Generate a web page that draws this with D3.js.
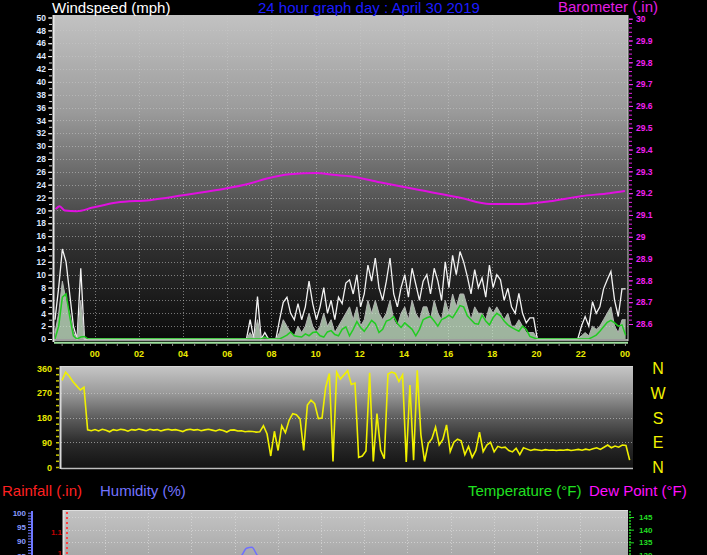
<!DOCTYPE html>
<html><head><meta charset="utf-8">
<script src="https://cdn.jsdelivr.net/npm/d3@7"></script>
<style>
body{margin:0;background:#000;}
svg{display:block;}
text{font-family:"Liberation Sans",Arial,sans-serif;}
</style>
</head><body>
<svg id="c" width="707" height="555"></svg>
<script>
// ---------------- DATA ----------------
const hourTickLabels = ["00","02","04","06","08","10","12","14","16","18","20","22","00"];
const hourTickValues = [0,2,4,6,8,10,12,14,16,18,20,22,24];
const startHour = -1.8;          // first sample (hours relative to midnight)
const stepHours = 1/6;           // 10-minute samples

// wind gust (mph), 10-min samples
const gust = [3,8,14,12,7,2,0,11,0,
  0,0,0,0,0,0,0,0,0,0,0,0,0,0,0,0,0,0,0,0,0,0,0,0,0,0,0,0,0,0,0,0,0,0,0,0,0,0,0,0,0,0,0,0,
  3,0,6.6,0,1,0,0,0,
  3,5.7,6.5,4,3,5.5,3,5,9,5.5,
  3,5,8,4,6,3,6.5,5.5,8.7,9.2,
  7,10,5,7,11.5,9,12.6,8,6,9,
  12.6,7,5,8,10,6.5,11,8.5,6,9,
  10,7,11,9,6,12,8,13,10,13.6,
  12,9.7,7,10.8,8,9.5,6.5,11.5,8,10,
  9.2,6,7.9,5,4,7.1,4,2.5,3.3,3.3,
  0,0,0,0,0,0,0,0,0,0,0,0,
  2,3.5,2,5.8,4,5,7.8,9.2,10.5,6,3.5,7.8,7.8];
// wind speed (mph)
const speed = [1,4,9,6,4,1,0,6,0,
  0,0,0,0,0,0,0,0,0,0,0,0,0,0,0,0,0,0,0,0,0,0,0,0,0,0,0,0,0,0,0,0,0,0,0,0,0,0,0,0,0,0,0,0,
  1,0,3,0,0,0,0,0,
  1,3,2,1,0.5,2,1,2,4,2,
  1,2,4,2,3,1,2,3,4,5,
  3,5,2,3,6,4,6,4,3,4,
  6,3,2,4,5,3,6,4,3,5,
  5,3,6,4,3,6,4,7,5,7,
  7,5,3,5,4,4,3,5,4,5,
  4,3,4,2,2,3,2,1,1,1,
  0,0,0,0,0,0,0,0,0,0,0,0,
  0.5,1,0.5,2,1.5,2,3,4,5,2,1,3,3];
// average wind speed (mph)
const avgSpeed = [0,2,6.5,7,3.5,0.5,0,0.3,0.4,
  0,0,0,0,0,0,0,0,0,0,0,0,0,0,0,0,0,0,0,0,0,0,0,0,0,0,0,0,0,0,0,0,0,0,0,0,0,0,0,0,0,0,0,0,
  0,0,0,0,0.3,0,0,0,
  0,0.3,0.6,1.1,0.5,0.4,0.3,0.8,0.5,1.0,
  1.1,0.5,0.3,1.1,1.3,0.7,0.5,1.5,1.9,0.5,
  1.5,2.7,1.8,1.2,2.0,2.9,2.4,1.0,1.5,2.8,
  3.0,3.5,2.4,1.8,2.5,2.0,1.5,0.5,1.5,3.0,
  3.3,3.5,2.8,2.0,3.0,3.3,3.7,3.3,4.2,5.2,
  5.0,3.6,3.0,2.4,2.3,3.7,2.8,2.2,3.3,4.0,
  3.6,2.8,2.2,1.8,1.5,1.2,2.0,1.5,0.4,0.2,
  0,0,0,0,0,0,0,0,0,0,0,0,0,0,0,
  0.3,0.6,1.2,1.9,2.6,2.9,2.5,2.0,2.2,0.6];
// wind direction (degrees)
const windDir = [315,345,330,310,295,280,290,135,
  132,136,131,137,134,128,136,133,137,135,130,136,134,138,135,132,137,134,136,131,
  135,137,134,136,133,129,135,137,134,136,132,135,137,134,131,136,133,127,134,135,
  131,132,128,130,129,127,128,
  150,120,40,130,60,150,125,170,194,190,
  175,60,225,243,230,176,178,290,340,20,
  345,320,335,350,300,305,35,40,58,343,
  20,194,62,30,338,345,340,311,335,18,
  298,25,352,117,20,85,103,145,80,100,
  153,56,90,101,95,45,75,35,60,127,
  56,80,90,55,75,70,72,60,55,68,
  45,70,65,60,64,62,60,63,61,62,
  60,62,61,63,60,62,64,61,65,62,
  66,70,64,72,80,70,76,72,80,78,
  25];
// barometer (inHg)
const baroHours  = [-1.77,-1.59,-1.36,-0.82,-0.09,1.0,2.49,3.99,5.53,7.02,7.79,8.83,10.05,10.78,11.55,12.9,14.7,16.5,17.9,19.2,20.6,22.0,23.3,24.0];
const baroValues = [29.127,29.14,29.12,29.117,29.134,29.157,29.168,29.19,29.214,29.244,29.267,29.287,29.293,29.284,29.278,29.25,29.214,29.18,29.15,29.15,29.163,29.186,29.2,29.21];
// humidity (%) – only the part visible in the bottom panel
const humHours  = [5.9,6.34,6.55,6.8,7.04,7.4];
const humValues = [82,85.2,87.6,87.9,85.2,82];
// axis labels of the lower panels
const dirTickValues = [0,90,180,270,360];
const compassLabels = ["N","W","S","E","N"];
const compassDeg = [360,270,180,90,0];
const humTicks = [85,90,95,100];
const rainTicks = [1,1.1];
const tempTicks = [130,135,140,145];

// ---------------- DRAW ----------------
const svg = d3.select("#c");
svg.append("rect").attr("width",707).attr("height",555).attr("fill","#000");
const defs = svg.append("defs");
function grad(id, stops){
  const g = defs.append("linearGradient").attr("id",id).attr("x1",0).attr("y1",0).attr("x2",0).attr("y2",1);
  stops.forEach(s=>g.append("stop").attr("offset",s[0]).attr("stop-color",s[1]));
}
grad("gTop",[[0,"#c2c2c2"],[0.3,"#9a9a9a"],[0.45,"#727272"],[0.72,"#2e2e2e"],[1,"#0a0a0a"]]);
grad("gDir",[[0,"#c6c6c6"],[0.25,"#9c9c9c"],[0.5,"#5e5e5e"],[0.75,"#2a2a2a"],[1,"#121212"]]);
grad("gBot",[[0,"#c4c4c4"],[1,"#a6a6a6"]]);

const tAt = i => startHour + i*stepHours;

// ===== TOP PANEL =====
const T = {x0:54, x1:628, y0:15, y1:341};
const xTop = d3.scaleLinear().domain([-1.8,24.14]).range([55,628]);
const yWind = d3.scaleLinear().domain([0,50]).range([339,17.5]);
const yBaro = d3.scaleLinear().domain([28.6,30]).range([324,18.7]);

defs.append("clipPath").attr("id","cTop").append("rect")
  .attr("x",T.x0).attr("y",T.y0).attr("width",T.x1-T.x0).attr("height",T.y1-T.y0);
svg.append("rect").attr("x",T.x0).attr("y",T.y0).attr("width",T.x1-T.x0).attr("height",T.y1-T.y0).attr("fill","url(#gTop)");

const gridTop = svg.append("g").attr("stroke","#c8c8c8").attr("stroke-opacity",0.55).attr("stroke-dasharray","1,2");
gridTop.selectAll(".v").data(hourTickValues.slice(0,12)).join("line")
  .attr("x1",d=>Math.round(xTop(d))+0.5).attr("x2",d=>Math.round(xTop(d))+0.5).attr("y1",T.y0).attr("y2",T.y1);
gridTop.selectAll(".h").data(d3.range(2,50,2)).join("line")
  .attr("x1",T.x0).attr("x2",T.x1).attr("y1",d=>Math.round(yWind(d))+0.5).attr("y2",d=>Math.round(yWind(d))+0.5);

const plotTop = svg.append("g").attr("clip-path","url(#cTop)");
const lineW = arr => d3.line().x((d,i)=>xTop(tAt(i))).y(d=>yWind(d))(arr);
plotTop.append("path").attr("d",lineW(gust)).attr("fill","none").attr("stroke","#f2f2f2").attr("stroke-width",1.3);
plotTop.append("path").attr("d",d3.area().x((d,i)=>xTop(tAt(i))).y0(yWind(0)).y1(d=>yWind(d))(speed))
  .attr("fill","#cfeccf").attr("fill-opacity",0.75);
plotTop.append("path").attr("d",lineW(speed)).attr("fill","none").attr("stroke","#b4b4b4").attr("stroke-width",1);
plotTop.append("path").attr("d",lineW(avgSpeed)).attr("fill","none").attr("stroke","#22cc22").attr("stroke-width",1.5);
plotTop.append("path").attr("d",d3.line().x((d,i)=>xTop(baroHours[i])).y(d=>yBaro(d)).curve(d3.curveMonotoneX)(baroValues))
  .attr("fill","none").attr("stroke","#e010e0").attr("stroke-width",2);

// borders
svg.append("line").attr("x1",53.5).attr("x2",53.5).attr("y1",T.y0).attr("y2",T.y1+1).attr("stroke","#e6e6e6").attr("stroke-width",2);
svg.append("line").attr("x1",T.x1).attr("x2",T.x1).attr("y1",T.y0).attr("y2",T.y1).attr("stroke","#d0d0d0");
svg.append("line").attr("x1",T.x0).attr("x2",T.x1).attr("y1",340).attr("y2",340).attr("stroke","#cfcfcf").attr("stroke-width",1.5);
svg.append("line").attr("x1",T.x0).attr("x2",T.x1).attr("y1",342.7).attr("y2",342.7).attr("stroke","#9ee09e").attr("stroke-width",2);

// left wind axis
const axL = svg.append("g").attr("transform","translate(52,0)")
  .call(d3.axisLeft(yWind).tickValues(d3.range(0,51,1)).tickSize(3).tickFormat(""));
axL.select(".domain").remove();
axL.selectAll("line").attr("stroke","#e0e0e0");
const axL2 = svg.append("g").attr("transform","translate(52,0)")
  .call(d3.axisLeft(yWind).tickValues(d3.range(0,51,2)).tickSize(4).tickPadding(2).tickFormat(d3.format("d")));
axL2.select(".domain").remove();
axL2.selectAll("line").attr("stroke","#f0f0f0");
axL2.selectAll("text").attr("fill","#dce6ff").attr("font-size","8.5px").attr("font-weight","bold")
  .attr("font-family","Liberation Sans, Arial");

// right barometer axis
const axR = svg.append("g").attr("transform","translate(629,0)")
  .call(d3.axisRight(yBaro).tickValues(d3.range(0,71).map(k=>28.6+k*0.02)).tickSize(3).tickFormat(""));
axR.select(".domain").remove();
axR.selectAll("line").attr("stroke","#e020e0");
const axR2 = svg.append("g").attr("transform","translate(629,0)")
  .call(d3.axisRight(yBaro).tickValues(d3.range(0,15).map(k=>28.6+k*0.1)).tickSize(4).tickPadding(3)
    .tickFormat(v=>String(Math.round(v*10)/10)));
axR2.select(".domain").remove();
axR2.selectAll("line").attr("stroke","#f030f0");
axR2.selectAll("text").attr("fill","#f020f0").attr("font-size","8.5px").attr("font-weight","bold");

// bottom hour axis
const axB = svg.append("g").attr("transform","translate(0,343)")
  .call(d3.axisBottom(xTop).tickValues(d3.range(-1.5,24.1,0.5)).tickSize(3).tickFormat(""));
axB.select(".domain").remove();
axB.selectAll("line").attr("stroke","#8a8a8a");
svg.append("g").selectAll("text").data(hourTickValues).join("text")
  .attr("x",d=>xTop(d)).attr("y",357).attr("text-anchor","middle")
  .attr("fill","#eaea00").attr("font-size","9px").attr("font-weight","bold")
  .text((d,i)=>hourTickLabels[i]);

// titles
svg.append("text").attr("x",52).attr("y",13).attr("fill","#ffffff").attr("font-size","15px").text("Windspeed (mph)");
svg.append("text").attr("x",258).attr("y",13).attr("fill","#1c1cff").attr("font-size","15px").text("24 hour graph day : April 30 2019");
svg.append("text").attr("x",558).attr("y",12).attr("fill","#e21ee2").attr("font-size","15px").text("Barometer (.in)");

// ===== WIND DIRECTION PANEL =====
const D = {x0:61, x1:633, y0:366, y1:469};
const xDir = d3.scaleLinear().domain([-1.8,24.14]).range([62,632]);
const yDir = d3.scaleLinear().domain([0,360]).range([467,368]);
defs.append("clipPath").attr("id","cDir").append("rect")
  .attr("x",D.x0).attr("y",D.y0).attr("width",D.x1-D.x0).attr("height",D.y1-D.y0);
svg.append("rect").attr("x",D.x0).attr("y",D.y0).attr("width",D.x1-D.x0).attr("height",D.y1-D.y0).attr("fill","url(#gDir)");
svg.append("g").attr("stroke","#d0d0d0").attr("stroke-opacity",0.6).attr("stroke-dasharray","1,2")
  .selectAll("line").data([90,180,270]).join("line")
  .attr("x1",D.x0).attr("x2",D.x1).attr("y1",d=>Math.round(yDir(d))+0.5).attr("y2",d=>Math.round(yDir(d))+0.5);
svg.append("line").attr("x1",D.x0).attr("x2",D.x1).attr("y1",D.y0+0.5).attr("y2",D.y0+0.5).attr("stroke","#d6d6d6");
svg.append("line").attr("x1",D.x0).attr("x2",D.x1).attr("y1",D.y1-0.5).attr("y2",D.y1-0.5).attr("stroke","#bdbdbd").attr("stroke-width",1.5);
svg.append("line").attr("x1",60.5).attr("x2",60.5).attr("y1",D.y0).attr("y2",D.y1).attr("stroke","#d8d8d8").attr("stroke-width",2);
svg.append("g").attr("clip-path","url(#cDir)").append("path")
  .attr("d",d3.line().x((d,i)=>xDir(tAt(i))).y(d=>yDir(d))(windDir))
  .attr("fill","none").attr("stroke","#f0f000").attr("stroke-width",1.6);
const axD = svg.append("g").attr("transform","translate(59,0)")
  .call(d3.axisLeft(yDir).tickValues(d3.range(0,361,22.5)).tickSize(3).tickFormat(""));
axD.select(".domain").remove();
axD.selectAll("line").attr("stroke","#c8c800").attr("stroke-width",1.5);
svg.append("g").selectAll("text").data(dirTickValues).join("text")
  .attr("x",52).attr("y",d=>yDir(d)+3.5).attr("text-anchor","end")
  .attr("fill","#e6e600").attr("font-size","9px").attr("font-weight","bold").text(d=>d);
svg.append("g").selectAll("text").data(compassLabels).join("text")
  .attr("x",658).attr("y",(d,i)=>yDir(compassDeg[i])+6).attr("text-anchor","middle")
  .attr("fill","#f2f200").attr("font-size","16px").text(d=>d);

// ===== BOTTOM PANEL =====
const B = {x0:63, x1:628, y0:510, y1:560};
const xBot = d3.scaleLinear().domain([0,24]).range([105,623.5]);
const yHum = d3.scaleLinear().domain([85,100]).range([555.6,512.7]);
const yRain = d3.scaleLinear().domain([1,1.1]).range([553,532]);
const yTemp = d3.scaleLinear().domain([130,145]).range([555,517]);
defs.append("clipPath").attr("id","cBot").append("rect")
  .attr("x",B.x0).attr("y",B.y0).attr("width",B.x1-B.x0).attr("height",B.y1-B.y0);
svg.append("rect").attr("x",B.x0).attr("y",B.y0).attr("width",B.x1-B.x0).attr("height",B.y1-B.y0).attr("fill","url(#gBot)");
svg.append("line").attr("x1",B.x0).attr("x2",B.x1).attr("y1",510.5).attr("y2",510.5).attr("stroke","#dedede");
svg.append("line").attr("x1",63.5).attr("x2",63.5).attr("y1",510).attr("y2",555).attr("stroke","#e0e0e0").attr("stroke-width",2);
const gridB = svg.append("g").attr("stroke","#dcdcdc").attr("stroke-opacity",0.7).attr("stroke-dasharray","1,2");
gridB.selectAll(".v").data(d3.range(0,23,2)).join("line")
  .attr("x1",d=>Math.round(xBot(d))+0.5).attr("x2",d=>Math.round(xBot(d))+0.5).attr("y1",B.y0).attr("y2",B.y1);
gridB.selectAll(".h").data([135,140,145]).join("line")
  .attr("x1",B.x0).attr("x2",B.x1).attr("y1",d=>Math.round(yTemp(d))+0.5).attr("y2",d=>Math.round(yTemp(d))+0.5);
svg.append("g").attr("clip-path","url(#cBot)").append("path")
  .attr("d",d3.line().x((d,i)=>xBot(humHours[i])).y(d=>yHum(d)).curve(d3.curveMonotoneX)(humValues))
  .attr("fill","none").attr("stroke","#6f6fff").attr("stroke-width",1.5);

// humidity axis
svg.append("line").attr("x1",32).attr("x2",32).attr("y1",511).attr("y2",555).attr("stroke","#6e78ff").attr("stroke-width",2);
const axH = svg.append("g").attr("transform","translate(31,0)")
  .call(d3.axisLeft(yHum).tickValues(d3.range(85,100.1,1)).tickSize(3).tickFormat(""));
axH.select(".domain").remove(); axH.selectAll("line").attr("stroke","#6e78ff");
svg.append("g").selectAll("text").data(humTicks).join("text")
  .attr("x",26).attr("y",d=>yHum(d)+3).attr("text-anchor","end")
  .attr("fill","#8a9cff").attr("font-size","8px").attr("font-weight","bold").text(d=>d);
// rain axis
svg.append("line").attr("x1",67).attr("x2",67).attr("y1",512).attr("y2",555).attr("stroke","#ff4040").attr("stroke-width",2).attr("stroke-dasharray","2,3");
svg.append("g").selectAll("text").data(rainTicks).join("text")
  .attr("x",62).attr("y",d=>yRain(d)+3).attr("text-anchor","end")
  .attr("fill","#c00000").attr("font-size","8px").attr("font-weight","bold").text(d=>d);
// temperature axis
svg.append("line").attr("x1",630).attr("x2",630).attr("y1",511).attr("y2",555).attr("stroke","#22cc22").attr("stroke-width",1.5).attr("stroke-dasharray","2,1");
const axT = svg.append("g").attr("transform","translate(629,0)")
  .call(d3.axisRight(yTemp).tickValues(tempTicks).tickSize(5).tickFormat(""));
axT.select(".domain").remove(); axT.selectAll("line").attr("stroke","#22dd22");
svg.append("g").selectAll("text").data(tempTicks).join("text")
  .attr("x",639).attr("y",d=>yTemp(d)+3).attr("fill","#22dd22").attr("font-size","8px").attr("font-weight","bold").text(d=>d);

// legends of bottom panel
svg.append("text").attr("x",2).attr("y",496).attr("fill","#ff2020").attr("font-size","15px").text("Rainfall (.in)");
svg.append("text").attr("x",100).attr("y",496).attr("fill","#7373ff").attr("font-size","15px").text("Humidity (%)");
svg.append("text").attr("x",468).attr("y",496).attr("fill","#20e020").attr("font-size","15px").text("Temperature (°F)");
svg.append("text").attr("x",589).attr("y",496).attr("fill","#ff10ff").attr("font-size","15px").text("Dew Point (°F)");
</script>
</body></html>
